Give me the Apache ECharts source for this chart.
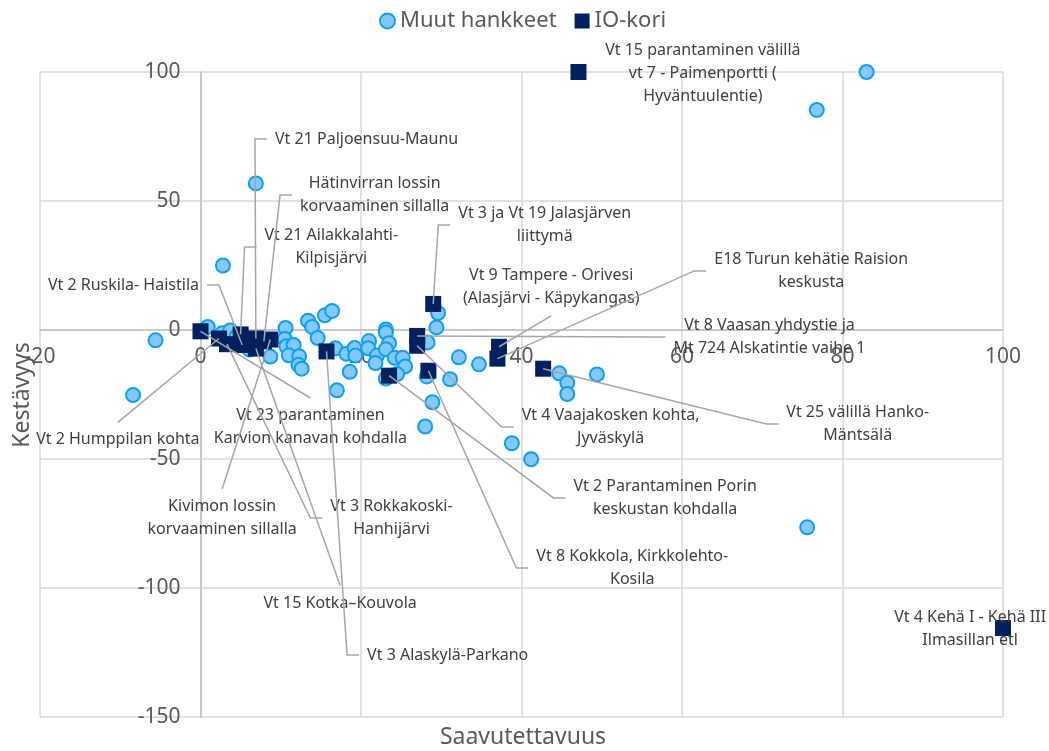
<!DOCTYPE html>
<html><head><meta charset="utf-8">
<script src="https://cdn.jsdelivr.net/npm/echarts@6/dist/echarts.min.js"></script>
<style>html,body{margin:0;padding:0;background:#fff}#c{width:1049px;height:751px}</style>
</head><body><div id="c"></div>
<script>
// ---- data ----
const xMin = -20, xMax = 100, xStep = 20;
const yMin = -150, yMax = 100, yStep = 50;

const seriesNames = ['Muut hankkeet', 'IO-kori'];

// Muut hankkeet: [saavutettavuus, kestävyys]
const muutHankkeet = [
  [83.0, 100], [76.8, 85.3], [75.6, -76.5], [6.9, 56.8], [2.8, 25.0],
  [-5.6, -4.0], [-8.4, -25.2], [0.9, 1.2], [2.7, -1.3], [3.7, -0.2],
  [4.5, -2.5], [6.1, -7.6], [8.7, -10.3], [10.6, 0.8], [10.5, -3.5],
  [10.7, -6.3], [11.6, -5.8], [11.0, -9.8], [12.3, -10.2], [12.2, -13.5],
  [12.6, -15.0], [13.4, 3.6], [13.9, 1.2], [14.6, -3.1], [15.5, 5.7],
  [16.4, 7.4], [16.8, -7.1], [17.0, -23.4], [18.2, -9.2], [19.2, -7.0],
  [19.3, -9.9], [18.6, -16.2], [21.0, -4.3], [20.9, -7.1], [22.0, -9.9],
  [21.8, -12.8], [23.1, 0.2], [23.1, -1.0], [23.5, -5.1], [23.1, -7.5],
  [24.2, -10.8], [25.2, -10.8], [25.5, -14.1], [24.5, -17.1], [23.1, -18.8],
  [28.3, -4.8], [28.2, -18.0], [28.9, -28.0], [28.0, -37.4], [29.4, 1.0],
  [29.6, 6.6], [31.1, -19.1], [32.2, -10.6], [34.7, -13.3], [38.8, -43.9],
  [41.2, -50.1], [44.7, -16.8], [45.7, -20.4], [45.7, -24.8], [49.4, -17.2]
];

// IO-kori: [saavutettavuus, kestävyys]
const ioKori = [
  [47.1, 100], [6.9, -3.3], [7.9, -4.4], [29.0, 10.1], [5.0, -1.7],
  [5.2, -5.8], [37.0, -11.1], [37.2, -6.5], [27.0, -2.3], [2.3, -3.3],
  [0.0, -0.5], [8.7, -3.7], [3.3, -5.5], [6.9, -7.2], [15.7, -8.3],
  [27.0, -6.1], [42.7, -15.0], [23.5, -17.7], [28.4, -15.8], [100.0, -115.5]
];

const ioLabels = [
  'Vt 15 parantaminen välillä\nvt 7 - Paimenportti (\nHyväntuulentie)',
  'Vt 21 Paljoensuu-Maunu',
  'Hätinvirran lossin\nkorvaaminen sillalla',
  'Vt 3 ja Vt 19 Jalasjärven\nliittymä',
  'Vt 21 Ailakkalahti-\nKilpisjärvi',
  'Vt 2 Ruskila- Haistila',
  'E18 Turun kehätie Raision\nkeskusta',
  'Vt 9 Tampere - Orivesi\n(Alasjärvi - Käpykangas)',
  'Vt 8 Vaasan yhdystie ja\nMt 724 Alskatintie vaihe 1',
  'Vt 2 Humppilan kohta',
  'Vt 23 parantaminen\nKarvion kanavan kohdalla',
  'Kivimon lossin\nkorvaaminen sillalla',
  'Vt 3 Rokkakoski-\nHanhijärvi',
  'Vt 15 Kotka–Kouvola',
  'Vt 3 Alaskylä-Parkano',
  'Vt 4 Vaajakosken kohta,\nJyväskylä',
  'Vt 25 välillä Hanko-\nMäntsälä',
  'Vt 2 Parantaminen Porin\nkeskustan kohdalla',
  'Vt 8 Kokkola, Kirkkolehto-\nKosila',
  'Vt 4 Kehä I - Kehä III\nIlmasillan etl'
];

// label layout (not data): label centre in axis units, and side the leader line leaves from
const labelAnchors = [
  [62.6, 99.6], [20.7, 74.0], [21.7, 52.3], [42.9, 40.7], [16.3, 32.2],
  [-9.6, 17.4], [76.1, 22.9], [43.7, 16.7], [70.9, -2.7], [-10.3, -42.6],
  [13.7, -37.6], [2.7, -72.9], [23.8, -72.9], [17.4, -105.8], [30.8, -126.0],
  [51.1, -37.6], [81.9, -36.4], [57.9, -65.1], [53.8, -92.2], [95.9, -115.9]
];
const leaderSide = [
  'none', 'left', 'left', 'left', 'left',
  'right', 'left', 'bottom', 'left', 'top',
  'top', 'top', 'left', 'top', 'left',
  'left', 'left', 'left', 'left', 'none'
];

// ---- chart ----
const FONT = 'Noto Sans';
const LABEL_SIZE = 16, LABEL_LH = 23;
const W = 1049, H = 751;
const G = {left: 40, right: 46, top: 72, bottom: 34};
const plotW = W - G.left - G.right, plotH = H - G.top - G.bottom;
// axes cross at zero: shift axes from the grid edges to the zero lines
const xAxisOffset = -plotH * (0 - yMin) / (yMax - yMin);
const yAxisOffset = -plotW * (0 - xMin) / (xMax - xMin);

const measureCtx = document.createElement('canvas').getContext('2d');
measureCtx.font = LABEL_SIZE + 'px "' + FONT + '"';
function labelSize(text) {
  const lines = text.split('\n');
  let w = 0;
  lines.forEach(l => { w = Math.max(w, measureCtx.measureText(l).width); });
  return [w, lines.length * LABEL_LH];
}

function leaderPoints(i, c, t) {
  const gap = 8, elbow = 12, gapV = 6;
  const sz = labelSize(ioLabels[i]);
  const w = sz[0], h = sz[1];
  const s = leaderSide[i];
  if (s === 'left') {
    const ax = c[0] - w / 2 - gap;
    return [t, [ax - elbow, c[1]], [ax, c[1]]];
  }
  if (s === 'right') {
    const ax = c[0] + w / 2 + gap;
    return [t, [ax + elbow, c[1]], [ax, c[1]]];
  }
  if (s === 'top') return [t, [c[0], c[1] - h / 2 - gapV]];
  if (s === 'bottom') return [t, [c[0], c[1] + h / 2 + gapV]];
  return null;
}

const chart = echarts.init(document.getElementById('c'), null, {renderer: 'canvas'});

chart.setOption({
  animation: false,
  backgroundColor: '#ffffff',
  textStyle: {fontFamily: FONT},
  grid: {left: G.left, right: G.right, top: G.top, bottom: G.bottom, containLabel: false, outerBoundsMode: 'none'},
  legend: {
    top: 5, left: 374, itemWidth: 15, itemHeight: 15, itemGap: 18,
    textStyle: {fontSize: 22, color: '#595959', fontFamily: FONT},
    data: [{name: seriesNames[0], icon: 'circle'}, {name: seriesNames[1], icon: 'rect'}]
  },
  xAxis: {
    type: 'value', min: xMin, max: xMax, interval: xStep, position: 'bottom', offset: xAxisOffset,
    axisLine: {show: true, onZero: false, lineStyle: {color: '#bfbfbf', width: 1.5}},
    axisTick: {show: false},
    axisLabel: {fontSize: 21, color: '#595959', margin: 17, fontFamily: FONT},
    splitLine: {show: true, lineStyle: {color: '#d9d9d9', width: 1.5}}
  },
  yAxis: {
    type: 'value', min: yMin, max: yMax, interval: yStep, position: 'left', offset: yAxisOffset,
    axisLine: {show: true, onZero: false, lineStyle: {color: '#bfbfbf', width: 1.5}},
    axisTick: {show: false},
    axisLabel: {fontSize: 21, color: '#595959', margin: 20, fontFamily: FONT},
    splitLine: {show: true, lineStyle: {color: '#d9d9d9', width: 1.5}}
  },
  graphic: [
    {type: 'text', x: 22, y: 395, rotation: Math.PI / 2,
     style: {text: 'Kestävyys', fontSize: 23, fill: '#595959', fontFamily: FONT, textAlign: 'center', textVerticalAlign: 'middle'}},
    {type: 'text', x: 523, y: 737,
     style: {text: 'Saavutettavuus', fontSize: 23, fill: '#595959', fontFamily: FONT, textAlign: 'center', textVerticalAlign: 'middle'}}
  ],
  series: [
    {
      name: seriesNames[0], type: 'scatter', symbol: 'circle', symbolSize: 14,
      itemStyle: {color: '#83C9FB', borderColor: '#0E9FEF', borderWidth: 2, opacity: 1},
      data: muutHankkeet, z: 2
    },
    {
      name: seriesNames[1], type: 'scatter', symbol: 'rect', symbolSize: 16,
      itemStyle: {color: '#002060', opacity: 1},
      data: ioKori, z: 3,
      label: {
        show: true,
        formatter: p => ioLabels[p.dataIndex],
        fontSize: LABEL_SIZE, lineHeight: LABEL_LH, color: '#404040', fontFamily: FONT, align: 'center'
      },
      labelLayout: function (p) {
        const c = chart.convertToPixel({gridIndex: 0}, labelAnchors[p.dataIndex]);
        return {x: c[0], y: c[1], align: 'center', verticalAlign: 'middle'};
      }
    },
    {
      name: 'leader', type: 'custom', z: 4, silent: true,
      data: ioKori.map((p, i) => [p[0], p[1], i]),
      encode: {x: 0, y: 1},
      renderItem: function (params, api) {
        const i = api.value(2);
        const t = api.coord([api.value(0), api.value(1)]);
        const c = api.coord(labelAnchors[i]);
        const pts = leaderPoints(i, c, t);
        if (!pts) return null;
        return {
          type: 'polyline', shape: {points: pts},
          style: {stroke: '#a6a6a6', lineWidth: 1.5, fill: null}
        };
      }
    }
  ]
});
</script>
</body></html>
